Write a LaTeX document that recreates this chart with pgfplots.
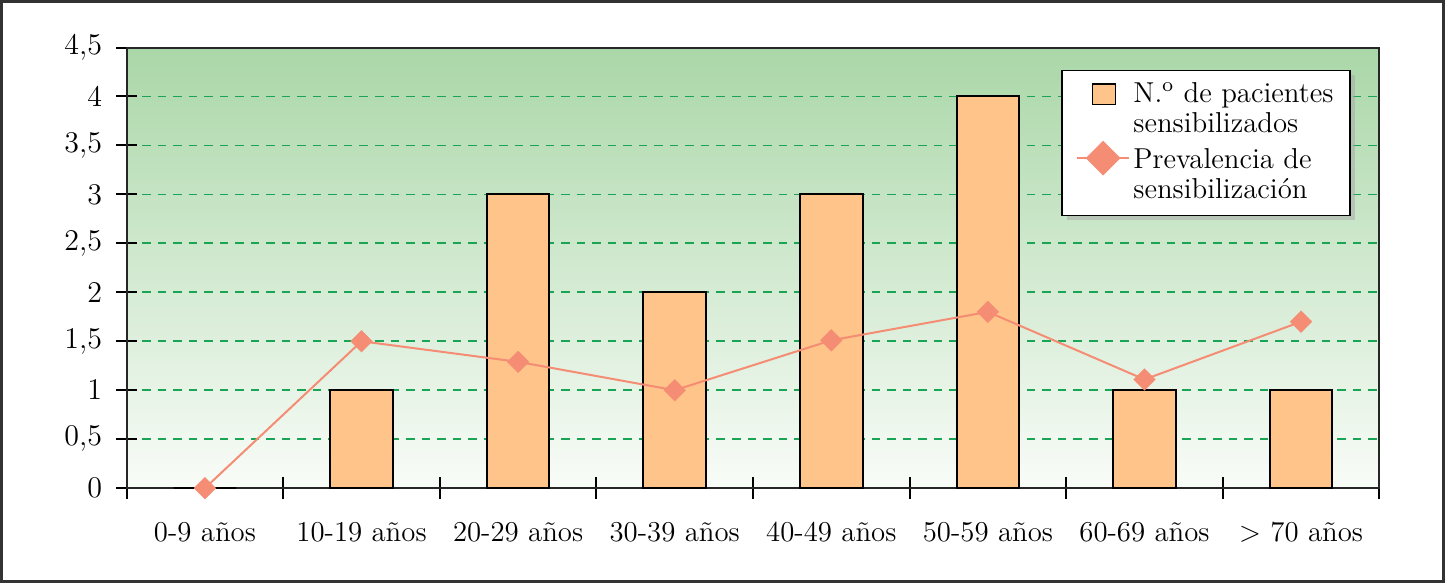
\documentclass[border=0pt]{standalone}
\usepackage{fontspec}
\usepackage{pgfplots}
\pgfplotsset{compat=1.18}
\usetikzlibrary{shadows}
\makeatletter
\tikzset{no preactions/.code={\let\tikz@preactions\pgfutil@empty}}
\makeatother
\definecolor{bgtop}{RGB}{170,215,168}
\definecolor{bgbot}{RGB}{249,252,248}
\definecolor{gridgreen}{RGB}{25,165,85}
\definecolor{barcol}{RGB}{254,196,137}
\definecolor{linecol}{RGB}{245,140,116}
\begin{document}
\fontsize{11.5}{13}\selectfont
\begin{tikzpicture}
\begin{axis}[
  scale only axis, width=500.4pt, height=176pt,
  xmin=-0.5, xmax=7.5, ymin=0, ymax=4.5,
  clip=false,
  axis background/.style={shade, top color=bgtop, bottom color=bgbot},
  axis line style={black!85, line width=0.8pt},
  tick pos=left,
  tick align=center,
  xtick={0,1,2,3,4,5,6,7},
  xticklabels={0-9 años, 10-19 años, 20-29 años, 30-39 años, 40-49 años, 50-59 años, 60-69 años, > 70 años},
  major x tick style={draw=none},
  minor xtick={-0.5,0.5,1.5,2.5,3.5,4.5,5.5,6.5,7.5},
  minor tick length=8.8pt,
  major tick length=8.4pt,
  every tick/.style={black, line width=0.8pt},
  ytick={0,0.5,1,1.5,2,2.5,3,3.5,4,4.5},
  /pgf/number format/use comma,
  /pgf/number format/fixed,
  /pgf/number format/precision=1,
  ymajorgrids,
  grid style={gridgreen, line width=0.7pt, dash pattern=on 3.4pt off 2.8pt},
  x tick label style={yshift=-5.5pt},
  y tick label style={xshift=-1.6pt},
  legend cell align=left,
  legend style={at={(rel axis cs:0.746,0.95)}, anchor=north west,
    draw=black, line width=0.6pt, fill=white,
    inner xsep=5.5pt, inner ysep=3pt,
    drop shadow={shadow xshift=2pt, shadow yshift=-2pt, fill=black!35},
    font=\fontsize{11.5}{12}\selectfont,
    nodes={inner xsep=1.2pt},
    cells={align=left}},
]
\addplot[ybar, bar width=0.4, fill=barcol, draw=black, line width=0.8pt,
  legend image code/.code={\draw[no preactions, fill=barcol, draw=black, line width=0.6pt] (0.22cm,2.3pt) rectangle (0.545cm,10.3pt);}]
  coordinates {(0,0) (1,1) (2,3) (3,2) (4,3) (5,4) (6,1) (7,1)};
\addlegendentry{N.\textsuperscript{o} de pacientes\\sensibilizados}
\addplot[linecol, line width=0.8pt, mark=square*, mark size=2.76pt, mark options={rotate=45, draw=linecol, fill=linecol},
  legend image code/.code={\draw[no preactions, linecol, line width=0.8pt, mark=square*, mark size=4.5pt, mark options={no preactions, rotate=45, draw=linecol, fill=linecol}, mark repeat=2, mark phase=2] plot coordinates {(0cm,7pt) (0.37cm,7pt) (0.74cm,7pt)};}]
  coordinates {(0,0) (1,1.5) (2,1.29) (3,1.0) (4,1.51) (5,1.8) (6,1.11) (7,1.7)};
\addlegendentry{Prevalencia de\\sensibilización}
\draw[black!80, line width=1.2pt] (rel axis cs:-0.0999,-0.2114) rectangle (rel axis cs:1.0512,1.1045);
\end{axis}
\end{tikzpicture}
\end{document}
